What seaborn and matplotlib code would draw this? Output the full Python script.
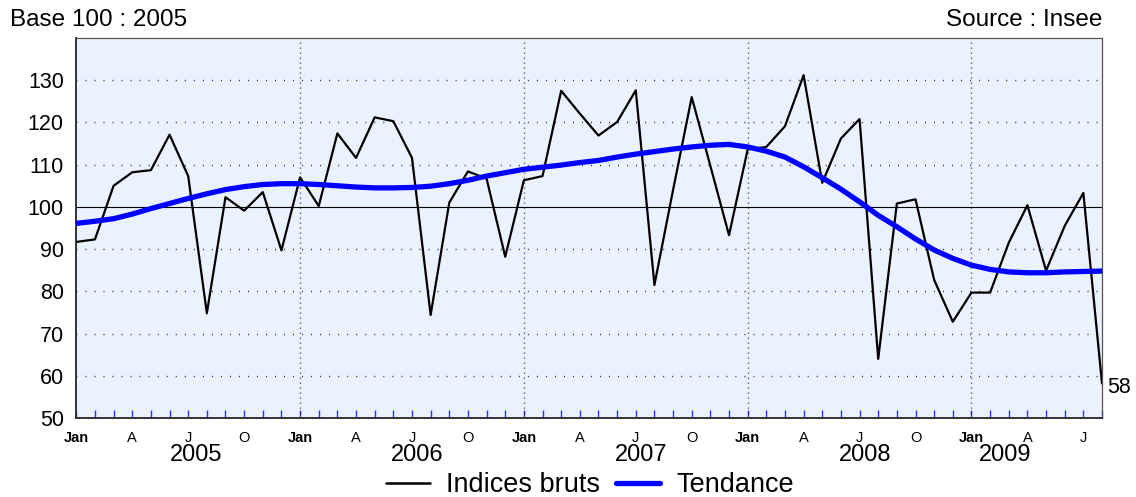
import numpy as np
import pandas as pd
import matplotlib
matplotlib.use("Agg")
import matplotlib.pyplot as plt
import matplotlib.transforms as mtransforms
from matplotlib.lines import Line2D
import seaborn as sns

# ---------------- data ----------------
months = list(range(56))  # Jan 2005 .. Aug 2009
indices_bruts = [91.7, 92.3, 105.0, 108.2, 108.7, 117.1, 107.3, 74.8, 102.3, 99.1,
                 103.5, 89.7, 107.0, 100.2, 117.4, 111.6, 121.2, 120.3, 111.6, 74.4,
                 101.0, 108.4, 106.7, 88.2, 106.3, 107.3, 127.5, 122.1, 116.9, 120.1,
                 127.6, 81.5, 104.0, 126.0, 109.7, 93.3, 113.6, 114.2, 119.1, 131.2,
                 105.7, 116.2, 120.8, 64.0, 100.8, 101.8, 82.7, 72.8, 79.7, 79.7,
                 91.5, 100.4, 84.9, 95.5, 103.3, 58.2]
tendance = [96.1, 96.6, 97.2, 98.3, 99.6, 100.8, 102.0, 103.1, 104.1, 104.8,
            105.3, 105.5, 105.5, 105.3, 105.0, 104.7, 104.5, 104.5, 104.6, 104.9,
            105.5, 106.3, 107.3, 108.1, 108.9, 109.4, 109.9, 110.5, 111.0, 111.8,
            112.5, 113.1, 113.7, 114.2, 114.6, 114.8, 114.2, 113.2, 111.8, 109.5,
            106.9, 104.2, 101.2, 98.0, 95.3, 92.4, 89.8, 87.8, 86.2, 85.2,
            84.6, 84.4, 84.4, 84.6, 84.7, 84.8]
month_letters = ["Jan", "", "", "A", "", "", "J", "", "", "O", "", ""]
years = ["2005", "2006", "2007", "2008", "2009"]
year_pos = [6.4, 18.3, 30.3, 42.3, 49.8]
y_ticks = [50, 60, 70, 80, 90, 100, 110, 120, 130]
last_label = "58"

# ---------------- style ----------------
sns.set_theme(style="white")
plt.rcParams["font.family"] = ["Liberation Sans", "DejaVu Sans"]
plt.rcParams["text.color"] = "black"
plt.rcParams["xtick.color"] = "black"
plt.rcParams["ytick.color"] = "black"

fig = plt.figure(figsize=(11.36, 4.97), dpi=100)
W, H = 1136, 497
ax = fig.add_axes([76.3 / W, (H - 418) / H, (1102 - 76.3) / W, (418 - 38) / H])
ax.set_facecolor("#EAF2FF")

df = pd.DataFrame({"mois": months, "Indices bruts": indices_bruts, "Tendance": tendance})

# grid
hdots = (0, (0.6, 5.9))
vdots = (0, (0.6, 3.0))
for v in y_ticks[1:]:
    if v == 100:
        continue
    ax.axhline(v, color="black", lw=1.0, linestyle=hdots, zorder=1)
for m in [12, 24, 36, 48]:
    ax.axvline(m, color="black", lw=1.0, linestyle=vdots, zorder=1)
ax.axhline(100, color="black", lw=0.8, zorder=1.5)

sns.lineplot(data=df, x="mois", y="Indices bruts", ax=ax, color="black", lw=1.6, zorder=3)
sns.lineplot(data=df, x="mois", y="Tendance", ax=ax, color="#0000FF", lw=3.8, zorder=4)

ax.set_xlim(0, 55)
ax.set_ylim(50, 140)
ax.set_xlabel("")
ax.set_ylabel("")

# y axis
ax.set_yticks(y_ticks)
ax.set_yticklabels([str(v) for v in y_ticks], fontsize=15.5)
ax.tick_params(axis="y", left=False, length=0, pad=9, labelcolor="black")

# x axis
ax.set_xticks(months)
labels = [month_letters[m % 12] for m in months]
ax.set_xticklabels(labels, fontsize=10.5)
for lbl in ax.get_xticklabels():
    if lbl.get_text() == "Jan":
        lbl.set_fontweight("bold")
ax.tick_params(axis="x", bottom=True, direction="in", length=6, width=1.0,
               color="#3030FF", labelcolor="black", pad=9)

# spines
for s in ["left", "bottom"]:
    ax.spines[s].set_color("#333333")
    ax.spines[s].set_linewidth(1.4)
for s in ["top", "right"]:
    ax.spines[s].set_color("#555555")
    ax.spines[s].set_linewidth(0.9)

# year labels
trans = mtransforms.blended_transform_factory(ax.transData, fig.transFigure)
for yr, p in zip(years, year_pos):
    ax.text(p, (H - 455) / H, yr, transform=trans, ha="center", va="center", fontsize=17)

# last value label
ax.annotate(last_label, xy=(55, indices_bruts[-1]), xytext=(4, -3), textcoords="offset points",
            ha="left", va="center", fontsize=15.5, annotation_clip=False)

# titles
fig.text(10 / W, (H - 20) / H, "Base 100 : 2005", ha="left", va="center", fontsize=17.5)
fig.text(1102 / W, (H - 20) / H, "Source : Insee", ha="right", va="center", fontsize=17.5)

# legend
if ax.get_legend() is not None:
    ax.get_legend().remove()
handles = [Line2D([], [], color="black", lw=1.8), Line2D([], [], color="#0000FF", lw=3.8)]
fig.legend(handles, ["Indices bruts", "Tendance"], loc="center", bbox_to_anchor=(590 / W, 12 / H),
           ncol=2, frameon=False, fontsize=19.5, handlelength=1.6, handletextpad=0.6,
           columnspacing=0.6, borderpad=0)

fig.savefig("out.png", dpi=100)
